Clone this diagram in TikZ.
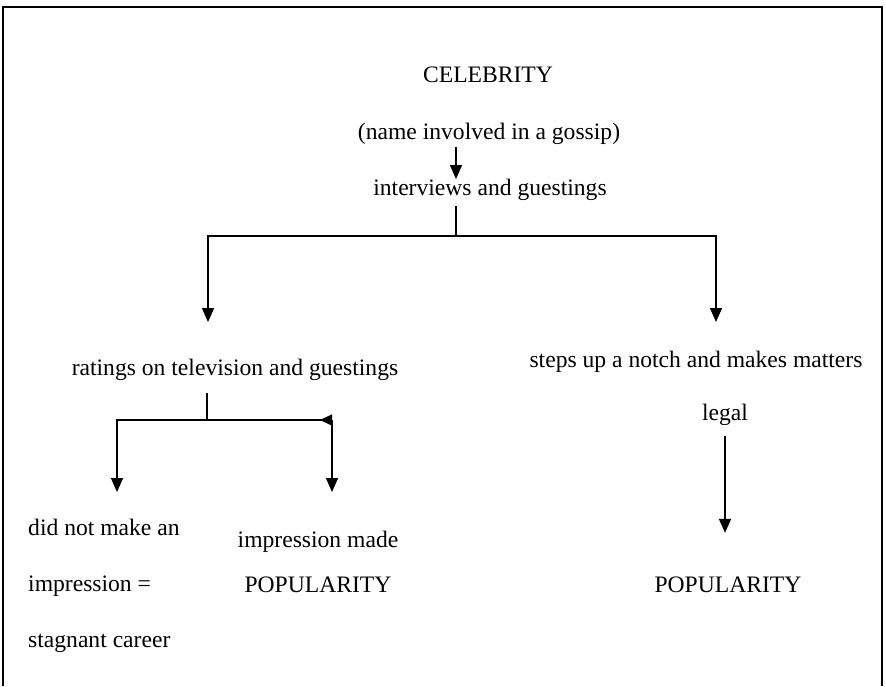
\documentclass[tikz,border=0pt]{standalone}
\usepackage{fontspec}
\setmainfont{Liberation Serif}
\usetikzlibrary{arrows.meta, positioning}
\tikzstyle{txt} = [font=\fontsize{23.6}{28}\selectfont, inner sep=0pt]
\tikzstyle{wire} = [line width=1.4pt]
\tikzstyle{arrow} = [line width=1.4pt, -{Triangle[length=14pt, width=12pt]}]

\begin{document}
\begin{tikzpicture}[x=1pt, y=-1pt]
	\useasboundingbox (0,0) rectangle (886,686);
	\draw [wire] (3,686) -- (3,7) -- (882,7) -- (882,686);
	\node (Celebrity) [txt] at (488,75) {CELEBRITY};
	\node (Gossip) [txt] at (489,134) {(name involved in a gossip)};
	\node (Interviews) [txt] at (490,190) {interviews and guestings};
	\coordinate (Split) at (456,236);
	\node (Ratings) [txt] at (235,370) {ratings on television and guestings};
	\node (Steps) [txt] at (696,362) {steps up a notch and makes matters};
	\node (Legal) [txt] at (725,415) {legal};
	\node (PopRight) [txt] at (728,585) {POPULARITY};
	\node (NoImpression) [txt, align=left, anchor=west, font=\fontsize{23.6}{56}\selectfont] at (28,586) {did not make an\\impression =\\stagnant career};
	\node (Made) [txt] at (318,542) {impression made};
	\node (PopLeft) [txt] at (318,585) {POPULARITY};
	\coordinate (LeftDrop) at (208,322);
	\coordinate (RightDrop) at (716,322);
	\coordinate (RatingsSplit) at (207,420);
	\coordinate (RatingsCorner) at (332,420);
	\coordinate (NoDrop) at (117,492);
	\coordinate (MadeDrop) at (332,492);
	\draw [arrow, shorten <=2pt] (Gossip.south -| Split) -- (Interviews.north -| Split);
	\draw [wire, shorten <=5pt] (Interviews.south -| Split) -- (Split);
	\draw [arrow] (Split) -| (LeftDrop);
	\draw [arrow] (Split) -| (RightDrop);
	\draw [arrow, shorten <=10pt, shorten >=44pt] (Legal.south) -- (Legal.south |- PopRight.north);
	\draw [wire, shorten <=12pt] (Ratings.south -| RatingsSplit) -- (RatingsSplit);
	\draw [arrow] (RatingsSplit) -| (NoDrop);
	\draw [wire, -{Triangle[reversed, length=12pt, width=11pt]}] (RatingsSplit) -- (RatingsCorner);
	\draw [arrow] (RatingsCorner) -- (MadeDrop);
\end{tikzpicture}
\end{document}
